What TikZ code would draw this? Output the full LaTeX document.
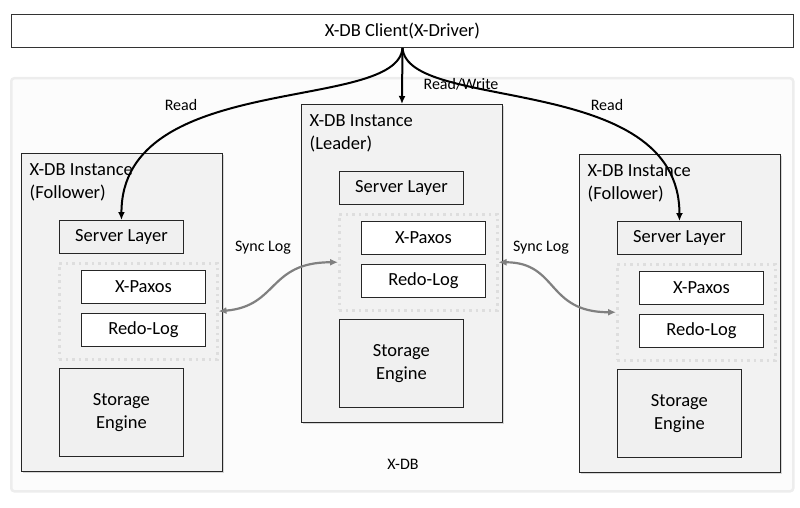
\documentclass[tikz,border=0pt]{standalone}
\usepackage{fontspec}
\setmainfont{Carlito}
\usetikzlibrary{arrows.meta}
\usetikzlibrary{shadows}

\begin{document}
\begin{tikzpicture}[x=1pt,y=-1pt,
  font=\fontsize{18.5}{23.5}\selectfont,
  cluster/.style={draw=black!7,line width=2.5pt,fill=black!1,rounded corners=3pt,anchor=north west,inner sep=0pt},
  client/.style={draw=black!80,line width=1pt,fill=white,anchor=north west,inner sep=0pt,minimum width=782pt,minimum height=33pt},
  instance/.style={draw=black!85,line width=0.9pt,fill=black!5,anchor=north west,inner sep=0pt,
    minimum width=201pt,minimum height=318pt,drop shadow={opacity=0.3,shadow xshift=1.5pt,shadow yshift=-1.5pt}},
  layer/.style={draw=black!85,line width=0.9pt,anchor=north west,inner sep=0pt,align=center,
    minimum width=124pt,minimum height=33pt,drop shadow={opacity=0.2,shadow xshift=1pt,shadow yshift=-1pt}},
  logzone/.style={draw=black!13,line width=2.5pt,dash pattern=on 2.5pt off 4pt,anchor=north west,inner sep=0pt,
    minimum width=158pt,minimum height=96pt},
  req/.style={draw=black,line width=2pt,-{Latex[length=8pt,width=7pt]}},
  sync/.style={draw=black!50,line width=2.2pt,{Latex[length=8pt,width=7pt]}-{Latex[length=8pt,width=7pt]}},
  note/.style={font=\fontsize{16}{18}\selectfont,inner sep=1pt}]
  % Boundary
  \path[use as bounding box] (0,0) rectangle (800,508);
  % Cluster
  \node[cluster,minimum width=782pt,minimum height=413pt] (xdb) at (10,77) {};
  \node[note] (xdblabel) at (403,464) {X-DB};
  % Client
  \node[client] (client) at (11,14) {X-DB Client(X-Driver)};
  % Instances
  \foreach \n/\x/\y/\role in {fl/21/153/Follower,ld/301/104/Leader,fr/579/154/Follower}{
    \begin{scope}[shift={(\x,\y)}]
      \node[instance,label={[anchor=north west,align=left,inner sep=0pt,xshift=8.5pt,yshift=-10pt]north west:X-DB Instance\\(\role)}] (\n) at (0,0) {};
      \node[layer,fill=black!6] (\n-srv) at (38,67) {Server Layer};
      \node[logzone] (\n-log) at (37,109) {};
      \node[layer,fill=white] (\n-paxos) at (60,117) {X-Paxos};
      \node[layer,fill=white] (\n-redo) at (60,160) {Redo-Log};
      \node[layer,fill=black!6,minimum height=88pt] (\n-store) at (38,215) {Storage\\Engine};
    \end{scope}
  }
  % Requests
  \draw[req] (client.south) -- (ld.north);
  \draw[req] (client.south) .. controls +(-5,65) and +(0,-150) .. (fl-srv.north);
  \draw[req] (client.south) .. controls +(5,65) and +(0,-150) .. (fr-srv.north);
  % Log shipping
  \draw[sync] (fl-log.east) .. controls +(60,-5) and +(-70,0) .. (ld-log.west);
  \draw[sync] (ld-log.east) .. controls +(60,0) and +(-70,0) .. (fr-log.west);
  % Labels
  \node[note] (readl) at (181,105) {Read};
  \node[note] (rw) at (461,84) {Read/Write};
  \node[note] (readr) at (607,105) {Read};
  \node[note] (syncl) at (263,248) {Sync Log};
  \node[note] (syncr) at (541,248) {Sync Log};
\end{tikzpicture}
\end{document}
